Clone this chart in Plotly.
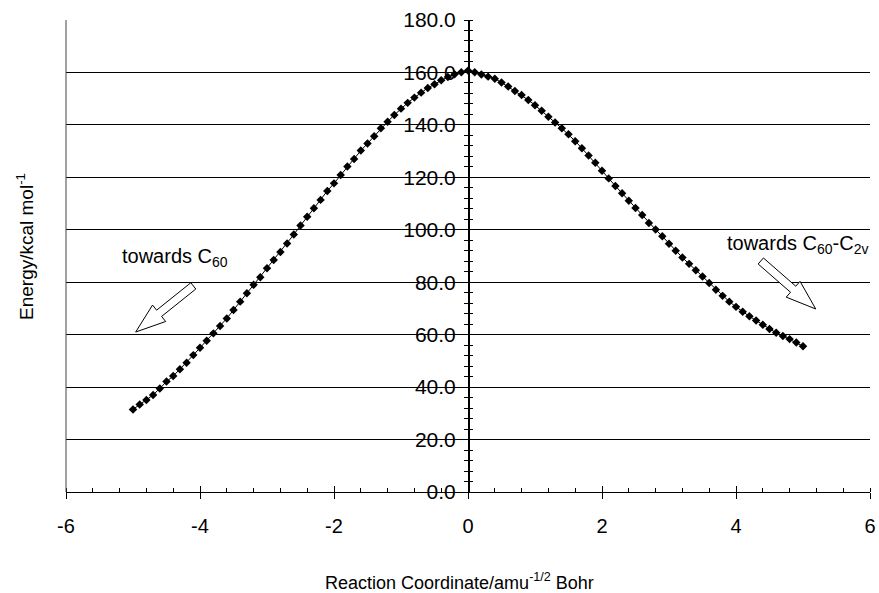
import math
import plotly.graph_objects as go

# ---------------- data ----------------
reaction_coord = [
    -5.0, -4.9, -4.8, -4.7, -4.6, -4.5, -4.4, -4.3, -4.2, -4.1,
    -4.0, -3.9, -3.8, -3.7, -3.6, -3.5, -3.4, -3.3, -3.2, -3.1,
    -3.0, -2.9, -2.8, -2.7, -2.6, -2.5, -2.4, -2.3, -2.2, -2.1,
    -2.0, -1.9, -1.8, -1.7, -1.6, -1.5, -1.4, -1.3, -1.2, -1.1,
    -1.0, -0.9, -0.8, -0.7, -0.6, -0.5, -0.4, -0.3, -0.2, -0.1,
    0.0,
    0.1, 0.2, 0.3, 0.4, 0.5, 0.6, 0.7, 0.8, 0.9, 1.0,
    1.1, 1.2, 1.3, 1.4, 1.5, 1.6, 1.7, 1.8, 1.9, 2.0,
    2.1, 2.2, 2.3, 2.4, 2.5, 2.6, 2.7, 2.8, 2.9, 3.0,
    3.1, 3.2, 3.3, 3.4, 3.5, 3.6, 3.7, 3.8, 3.9, 4.0,
    4.1, 4.2, 4.3, 4.4, 4.5, 4.6, 4.7, 4.8, 4.9, 5.0,
]
energy = [
    31.5, 33.4, 35.1, 37.0, 39.5, 42.1, 44.2, 46.8, 49.3, 52.2,
    55.0, 57.7, 60.5, 63.3, 66.2, 69.4, 72.6, 75.8, 79.0, 81.9,
    85.3, 88.5, 91.5, 94.8, 98.2, 101.6, 105.0, 108.2, 111.4, 114.8,
    117.7, 120.9, 124.1, 127.0, 130.2, 132.9, 135.7, 138.7, 141.2, 143.8,
    146.2, 148.4, 150.4, 152.3, 154.1, 155.5, 157.0, 158.3, 159.3, 160.1,
    160.7,
    160.1, 159.2, 158.4, 157.6, 156.2, 154.6, 152.9, 151.4, 149.5, 147.5,
    145.4, 143.1, 140.9, 138.7, 136.4, 133.8, 131.1, 128.3, 125.6, 122.5,
    119.6, 116.7, 113.9, 111.1, 108.3, 105.6, 102.6, 100.1, 97.5, 94.7,
    92.0, 89.4, 87.0, 84.6, 82.2, 79.7, 77.1, 74.8, 72.6, 70.6,
    68.7, 67.0, 65.4, 63.8, 62.2, 60.7, 59.5, 58.3, 57.0, 55.6,
]
x_tick_vals = [-6, -4, -2, 0, 2, 4, 6]
x_tick_text = ["-6", "-4", "-2", "0", "2", "4", "6"]
y_tick_vals = [0, 20, 40, 60, 80, 100, 120, 140, 160, 180]
y_tick_text = ["0.0", "20.0", "40.0", "60.0", "80.0", "100.0",
               "120.0", "140.0", "160.0", "180.0"]

x_title = "Reaction Coordinate/amu<sup>-1/2</sup> Bohr"
y_title = "Energy/kcal mol<sup>-1</sup>"
label_left = "towards C<sub>60</sub>"
label_right = "towards C<sub>60</sub>-C<sub>2v</sub>"

# ---------------- layout constants ----------------
FIG_W, FIG_H = 879, 593
PLOT_LEFT, PLOT_RIGHT, PLOT_TOP, PLOT_BOTTOM = 66, 870, 20, 492   # page px
PW, PH = PLOT_RIGHT - PLOT_LEFT, PLOT_BOTTOM - PLOT_TOP
ML, MT = PLOT_LEFT, PLOT_TOP
MR, MB = FIG_W - PLOT_RIGHT, FIG_H - PLOT_BOTTOM
X_RANGE = [-6, 6]
Y_RANGE = [0, 180]
FONT = "Liberation Sans, Arial, Helvetica, sans-serif"


def page_to_paper(px, py):
    return (px - PLOT_LEFT) / PW, (PLOT_BOTTOM - py) / PH


def data_to_px(x, y):
    return ((x - X_RANGE[0]) / (X_RANGE[1] - X_RANGE[0]) * PW,
            (y - Y_RANGE[0]) / (Y_RANGE[1] - Y_RANGE[0]) * PH)


def block_arrow(tail, tip, shaft_w=8, head_w=21, head_len=30):
    x0, y0 = data_to_px(*tail)
    x1, y1 = data_to_px(*tip)
    dx, dy = x1 - x0, y1 - y0
    L = math.hypot(dx, dy)
    ux, uy = dx / L, dy / L
    nx, ny = -uy, ux
    bx, by = x1 - ux * head_len, y1 - uy * head_len
    s, h = shaft_w / 2, head_w / 2
    pts = [
        (x0 + nx * s, y0 + ny * s),
        (bx + nx * s, by + ny * s),
        (bx + nx * h, by + ny * h),
        (x1, y1),
        (bx - nx * h, by - ny * h),
        (bx - nx * s, by - ny * s),
        (x0 - nx * s, y0 - ny * s),
    ]
    path = "M " + " L ".join(f"{px / PW:.5f},{py / PH:.5f}" for px, py in pts) + " Z"
    return dict(type="path", path=path, xref="paper", yref="paper",
                fillcolor="white", line=dict(color="black", width=1), layer="above")


fig = go.Figure()
fig.add_trace(go.Scatter(
    x=reaction_coord, y=energy, mode="lines+markers",
    line=dict(color="black", width=1),
    marker=dict(symbol="diamond", size=6.5, color="black"),
    showlegend=False, hoverinfo="skip",
))
# invisible trace to carry the overlay axes (cross ticks)
fig.add_trace(go.Scatter(x=[None], y=[None], xaxis="x2", yaxis="y2",
                         showlegend=False, hoverinfo="skip"))

fig.update_layout(
    width=FIG_W, height=FIG_H, autosize=False,
    margin=dict(l=ML, r=MR, t=MT, b=MB, pad=0, autoexpand=False),
    paper_bgcolor="white", plot_bgcolor="white",
    font=dict(family=FONT, color="black"),
    xaxis=dict(
        range=X_RANGE, domain=[0, 1], anchor="y", automargin=False,
        tickmode="array", tickvals=x_tick_vals, ticktext=x_tick_text,
        ticks="outside", ticklen=6, tickwidth=1, tickcolor="black",
        minor=dict(tick0=-6, dtick=0.4, ticks="inside", ticklen=4,
                   tickwidth=1, tickcolor="black", showgrid=False),
        showline=True, linecolor="black", linewidth=1,
        showgrid=False, zeroline=False,
        tickfont=dict(family=FONT, size=20, color="black"), ticklabelstandoff=10,
    ),
    xaxis2=dict(
        range=X_RANGE, overlaying="x", anchor="y", side="bottom", automargin=False,
        tickmode="array", tickvals=x_tick_vals,
        ticks="inside", ticklen=6, tickwidth=1, tickcolor="black",
        showticklabels=False, showline=False, showgrid=False, zeroline=False,
    ),
    yaxis=dict(
        range=Y_RANGE, domain=[0, 1], anchor="free", position=0.5, side="left",
        automargin=False,
        tickmode="array", tickvals=y_tick_vals, ticktext=y_tick_text,
        ticks="outside", ticklen=4, tickwidth=1, tickcolor="black",
        minor=dict(tick0=0, dtick=4, ticks="outside", ticklen=4,
                   tickwidth=1, tickcolor="black", showgrid=False),
        showline=True, linecolor="black", linewidth=1.5,
        showgrid=True, gridcolor="black", gridwidth=1, zeroline=False,
        tickfont=dict(family=FONT, size=21, color="black"), ticklabelstandoff=4,
    ),
    yaxis2=dict(
        range=Y_RANGE, overlaying="y", anchor="free", position=0.5, side="right",
        automargin=False,
        tickmode="array", tickvals=y_tick_vals,
        ticks="outside", ticklen=4, tickwidth=1, tickcolor="black",
        minor=dict(tick0=0, dtick=4, ticks="outside", ticklen=4,
                   tickwidth=1, tickcolor="black", showgrid=False),
        showticklabels=False, showline=False, showgrid=False, zeroline=False,
    ),
    shapes=[
        dict(type="line", xref="paper", yref="paper", x0=0, x1=0, y0=0, y1=1,
             line=dict(color="#444", width=1)),
        block_arrow((-4.10, 78.6), (-4.96, 61.0)),
        block_arrow((4.37, 88.1), (5.19, 69.8)),
    ],
)

annots = [
    (label_left, 175, 257, 20, 0),
    (label_right, 798, 245, 20, 0),
    (x_title, 459, 581, 18, 0),
    (y_title, 25, 247, 19, -90),
]
for text, px, py, size, angle in annots:
    ax, ay = page_to_paper(px, py)
    fig.add_annotation(text=text, xref="paper", yref="paper", x=ax, y=ay,
                       xanchor="center", yanchor="middle", showarrow=False,
                       textangle=angle,
                       font=dict(family=FONT, size=size, color="black"))

fig.write_html(
    "out.html",
    config={"displayModeBar": False, "staticPlot": True},
    post_script="document.body.style.margin='0';document.body.style.overflow='hidden';",
)
